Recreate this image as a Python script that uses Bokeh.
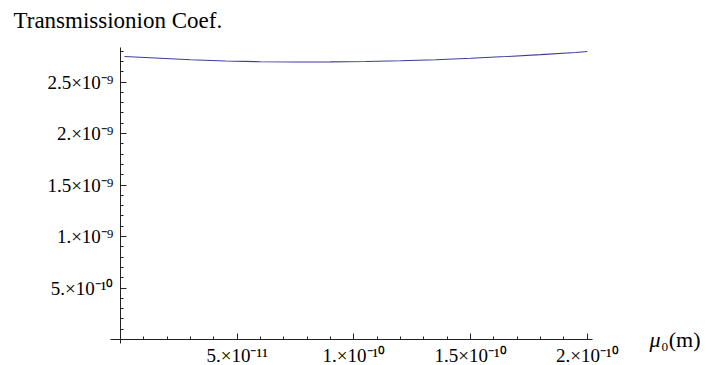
from bokeh.plotting import figure
from bokeh.models import Range1d, FixedTicker, Label
from bokeh.core.properties import value
from bokeh.embed import file_html
from bokeh.resources import INLINE

# data
mu0 = [0.17e-11, 1.5e-11, 3.0e-11, 4.5e-11, 6.0e-11, 7.5e-11, 9.0e-11, 10.5e-11,
       12.0e-11, 13.5e-11, 15.0e-11, 16.5e-11, 18.0e-11, 19.5e-11, 20.0e-11]
coef = [2.748e-9, 2.733e-9, 2.716e-9, 2.704e-9, 2.697e-9, 2.694e-9, 2.695e-9, 2.699e-9,
        2.706e-9, 2.716e-9, 2.730e-9, 2.747e-9, 2.766e-9, 2.787e-9, 2.796e-9]

x_major = [5e-11, 1e-10, 1.5e-10, 2e-10]
x_major_labels = ["5.×10⁻¹¹", "1.×10⁻¹⁰", "1.5×10⁻¹⁰", "2.×10⁻¹⁰"]
x_minor = [i * 1e-11 for i in range(1, 21)]
y_major = [5e-10, 1e-9, 1.5e-9, 2e-9, 2.5e-9]
y_major_labels = ["5.×10⁻¹⁰", "1.×10⁻⁹", "1.5×10⁻⁹", "2.×10⁻⁹", "2.5×10⁻⁹"]
y_minor = [i * 1e-10 for i in range(1, 29)]

title_text = "Transmissionion Coef."
xlabel_sym = "μ"
xlabel_rest = "₀(m)"

FONT = "Liberation Serif"

# plot range (with Mathematica-like padding) and axis extents
X_RANGE = (-5.141e-11, 25.15e-11)
Y_RANGE = (-0.2524e-9, 3.2913e-9)
X_AXIS_EXTENT = (-0.43e-11, 20.22e-11)
Y_AXIS_EXTENT = (-0.039e-9, 2.835e-9)

p = figure(width=707, height=365, output_backend="svg", toolbar_location=None,
           x_range=Range1d(*X_RANGE), y_range=Range1d(*Y_RANGE),
           min_border=0)
p.outline_line_color = None
p.grid.visible = False
p.background_fill_color = "white"
p.border_fill_color = "white"

p.line(mu0, coef, line_color="#3d3d99", line_width=1.1)

ax = p.xaxis[0]
ax.fixed_location = 0
ax.bounds = X_AXIS_EXTENT
ax.ticker = FixedTicker(ticks=x_major, minor_ticks=x_minor)
ax.major_label_overrides = {t: "" for t in x_major}
ay = p.yaxis[0]
ay.fixed_location = 0
ay.bounds = Y_AXIS_EXTENT
ay.ticker = FixedTicker(ticks=y_major, minor_ticks=y_minor)
ay.major_label_overrides = {t: "" for t in y_major}

for a in (ax, ay):
    a.axis_line_color = "#222222"
    a.axis_line_width = 1
    a.major_tick_line_color = "#222222"
    a.minor_tick_line_color = "#222222"
    a.major_tick_in = 6
    a.major_tick_out = 0
    a.minor_tick_in = 3
    a.minor_tick_out = 0
    a.major_label_text_font_size = "0px"
    a.major_label_standoff = 0

# tick labels
p.text(x=x_major, y=[0] * len(x_major), text=x_major_labels,
       text_font=value(FONT), text_font_size="19px", text_color="black",
       text_align="center", text_baseline="top", y_offset=5)
p.text(x=[0] * len(y_major), y=y_major, text=y_major_labels,
       text_font=value(FONT), text_font_size="19px", text_color="black",
       text_align="right", text_baseline="middle", x_offset=-7)

# axis labels
p.add_layout(Label(x=-4.585e-11, y=3.097e-9, text=title_text,
                   text_font=FONT, text_font_size="23px",
                   text_color="black", text_baseline="alphabetic"))
p.add_layout(Label(x=22.66e-11, y=0.0, text=xlabel_sym,
                   text_font=FONT, text_font_style="italic", text_font_size="22px",
                   text_color="black", text_baseline="alphabetic"))
p.add_layout(Label(x=23.16e-11, y=0.0, text=xlabel_rest,
                   text_font=FONT, text_font_size="22px",
                   text_color="black", text_baseline="alphabetic"))

open("out.html", "w").write(file_html(p, INLINE))
